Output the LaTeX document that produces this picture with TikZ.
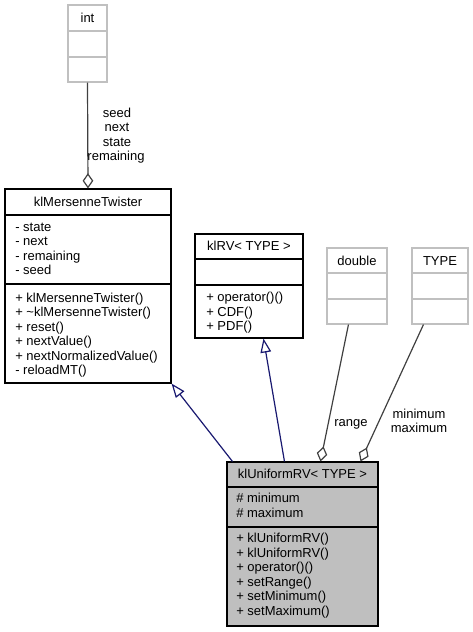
\documentclass[tikz,border=0pt]{standalone}
\usepackage{fontspec}
\setmainfont{Liberation Sans}
\usetikzlibrary{arrows.meta,fit,calc}
\definecolor{edgegray}{HTML}{404040}
\definecolor{boxgray}{HTML}{BFBFBF}
\definecolor{navyedge}{HTML}{191970}
\definecolor{lightborder}{HTML}{C0C0C0}
\tikzset{
  cls/.style={draw=black, line width=0.8pt, inner sep=0pt},
  extcls/.style={draw=lightborder, line width=0.8pt, inner sep=0pt},
  sep/.style={draw=black, line width=0.8pt},
  extsep/.style={draw=lightborder, line width=0.8pt},
  txt/.style={inner sep=0pt, anchor=base west, font=\fontsize{9.75pt}{11pt}\selectfont},
  ttl/.style={inner sep=0pt, anchor=base, font=\fontsize{9.75pt}{11pt}\selectfont},
  inherit/.style={draw=navyedge, line width=0.9pt, -{Triangle[open, length=10.5pt, width=8pt]}},
  aggr/.style={draw=edgegray, line width=0.9pt, -{Diamond[open, length=11.5pt, width=8pt]}},
}
\begin{document}
\begin{tikzpicture}[x=0.75pt,y=-0.75pt]
\useasboundingbox (0,0) rectangle (473,632);

% int
\node[extcls, fit={(68,5) (107,82)}] (int) {};
\draw[extsep] (68,31) -- (107,31);
\draw[extsep] (68,57) -- (107,57);
\node[ttl] (intt) at (87.5,22) {int};

% klMersenneTwister
\node[cls, fill=white, fit={(5,189) (171,383)}] (mt) {};
\draw[sep] (5,215) -- (171,215);
\draw[sep] (5,284) -- (171,284);
\node[ttl] (mtt) at (88,206) {klMersenneTwister};
\node[txt] (mta1) at (15,231) {- state};
\node[txt] (mta2) at (15,245.5) {- next};
\node[txt] (mta3) at (15,260) {- remaining};
\node[txt] (mta4) at (15,274.5) {- seed};
\node[txt] (mtm1) at (15,302) {+ klMersenneTwister()};
\node[txt] (mtm2) at (15,316.5) {+ \textasciitilde klMersenneTwister()};
\node[txt] (mtm3) at (15,331) {+ reset()};
\node[txt] (mtm4) at (15,345.5) {+ nextValue()};
\node[txt] (mtm5) at (15,360) {+ nextNormalizedValue()};
\node[txt] (mtm6) at (15,374.5) {- reloadMT()};

% klRV
\node[cls, fill=white, fit={(195,234) (303,338)}] (rv) {};
\draw[sep] (195,259) -- (303,259);
\draw[sep] (195,285) -- (303,285);
\node[ttl] (rvt) at (249,250) {klRV< TYPE >};
\node[txt] (rvm1) at (206,301.5) {+ operator()()};
\node[txt] (rvm2) at (206,316) {+ CDF()};
\node[txt] (rvm3) at (206,330.5) {+ PDF()};

% double
\node[extcls, fit={(327,248) (387,324)}] (dbl) {};
\draw[extsep] (327,273) -- (387,273);
\draw[extsep] (327,299) -- (387,299);
\node[ttl] (dblt) at (357,265) {double};

% TYPE
\node[extcls, fit={(412,248) (468,324)}] (typ) {};
\draw[extsep] (412,273) -- (468,273);
\draw[extsep] (412,299) -- (468,299);
\node[ttl] (typt) at (440,265) {TYPE};

% klUniformRV
\node[cls, fill=boxgray, fit={(227,462) (378,626)}] (uni) {};
\draw[sep] (227,487) -- (378,487);
\draw[sep] (227,527) -- (378,527);
\node[ttl] (unit) at (302.5,478) {klUniformRV< TYPE >};
\node[txt] (unia1) at (236,502.5) {\# minimum};
\node[txt] (unia2) at (236,517) {\# maximum};
\node[txt] (unim1) at (236,542.5) {+ klUniformRV()};
\node[txt] (unim2) at (236,557) {+ klUniformRV()};
\node[txt] (unim3) at (236,571.5) {+ operator()()};
\node[txt] (unim4) at (236,586) {+ setRange()};
\node[txt] (unim5) at (236,600.5) {+ setMinimum()};
\node[txt] (unim6) at (236,615) {+ setMaximum()};

% connectors
\draw[aggr] (int.south) -- (mt.north);
\node[ttl] (l1) at (117,117) {seed};
\node[ttl] (l2) at (117,131.5) {next};
\node[ttl] (l3) at (117,146) {state};
\node[ttl] (l4) at (116,160.5) {remaining};

\draw[inherit] ($(uni.north west)+(6,0)$) -- (mt.south east);
\draw[inherit] ($(uni.north west)+(58,0)$) -- ($(rv.south west)+(69,0)$);

\draw[aggr] ($(dbl.south west)+(22,0)$) -- ($(uni.north west)+(94,0)$);
\node[ttl] (l5) at (351,426) {range};

\draw[aggr] ($(typ.south west)+(12,0)$) -- ($(uni.north west)+(134,0)$);
\node[ttl] (l6) at (419,418) {minimum};
\node[ttl] (l7) at (419,432.5) {maximum};
\end{tikzpicture}
\end{document}
